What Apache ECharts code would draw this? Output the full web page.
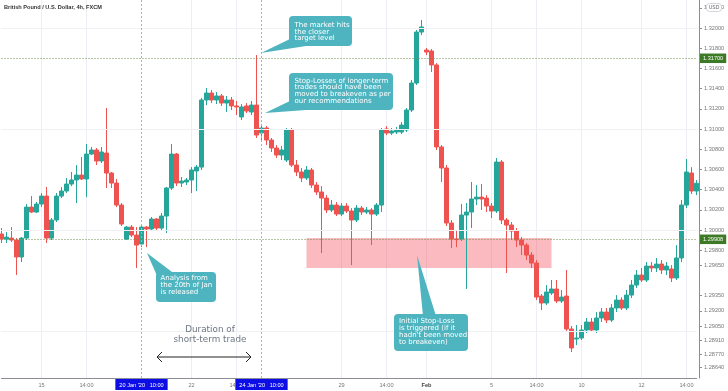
<!DOCTYPE html>
<html><head><meta charset="utf-8">
<script src="https://cdn.jsdelivr.net/npm/echarts@6/dist/echarts.min.js"></script>
<style>html,body{margin:0;padding:0;background:#fff}#c{width:728px;height:391px}</style>
</head><body><div id="c"></div>
<script>
// ---- data ----
const days = ['13 Jan','14 Jan','15 Jan','16 Jan','17 Jan','20 Jan','21 Jan','22 Jan','23 Jan','24 Jan','27 Jan','28 Jan','29 Jan','30 Jan','31 Jan','3 Feb','4 Feb','5 Feb','6 Feb','7 Feb','10 Feb','11 Feb','12 Feb','13 Feb'];
const hours = ['02:00','06:00','10:00','14:00','18:00','22:00'];
const times = days.flatMap(d => hours.map(h => d + ' ' + h)).slice(4);

const opens = [
1.29960,1.29910,1.29920,1.29901,1.29733,1.29920,1.30227,1.30178,1.30257,1.30336,
1.29920,1.30099,1.30336,1.30386,1.30455,1.30495,1.30544,1.30505,1.30752,1.30792,
1.30683,1.30762,1.30564,1.30465,1.30247,1.29910,1.30029,1.29950,1.29861,1.30029,
1.30010,1.30109,1.30019,1.30138,1.30416,1.30752,1.30465,1.30475,1.30495,1.30584,
1.30623,1.31287,1.31356,1.31287,1.31327,1.31257,1.31287,1.31228,1.31119,1.31228,
1.31168,1.31237,1.30960,1.31010,1.30891,1.30812,1.30742,1.30693,1.30990,1.30643,
1.30574,1.30515,1.30594,1.30445,1.30376,1.30316,1.30198,1.30247,1.30158,1.30237,
1.30188,1.30099,1.30217,1.30178,1.30198,1.30158,1.30247,1.31000,1.30960,1.30970,
1.30970,1.30990,1.31188,1.31455,1.31960,1.31782,1.31772,1.31634,1.30822,1.30614,
1.30069,1.29910,1.29910,1.30148,1.30178,1.30307,1.30326,1.30316,1.30237,1.30188,
1.30673,1.30099,1.30049,1.29990,1.29901,1.29851,1.29752,1.29673,1.29346,1.29277,
1.29376,1.29416,1.29297,1.29346,1.29020,1.28921,1.28931,1.29010,1.29089,1.29010,
1.29129,1.29188,1.29109,1.29228,1.29307,1.29228,1.29356,1.29455,1.29554,1.29505,
1.29643,1.29624,1.29663,1.29604,1.29614,1.29525,1.29723,1.30247,1.30564,1.30386];
const closes = [
1.29910,1.29930,1.29901,1.29733,1.29920,1.30227,1.30178,1.30257,1.30336,1.29920,
1.30099,1.30336,1.30386,1.30455,1.30495,1.30544,1.30505,1.30752,1.30792,1.30683,
1.30772,1.30564,1.30465,1.30247,1.30059,1.30029,1.29950,1.29851,1.30029,1.30010,
1.30109,1.30019,1.30138,1.30416,1.30752,1.30465,1.30485,1.30495,1.30594,1.30623,
1.31287,1.31356,1.31287,1.31327,1.31257,1.31287,1.31228,1.31218,1.31218,1.31178,
1.31237,1.30940,1.31010,1.30891,1.30812,1.30742,1.30792,1.30990,1.30643,1.30574,
1.30515,1.30594,1.30445,1.30376,1.30316,1.30198,1.30247,1.30158,1.30237,1.30188,
1.30099,1.30217,1.30178,1.30198,1.30158,1.30247,1.30990,1.30960,1.30980,1.30990,
1.31039,1.31188,1.31455,1.31960,1.32010,1.31762,1.31634,1.30822,1.30614,1.30069,
1.29910,1.29905,1.30148,1.30178,1.30307,1.30326,1.30307,1.30237,1.30188,1.30673,
1.30099,1.30049,1.29990,1.29901,1.29851,1.29752,1.29673,1.29336,1.29277,1.29386,
1.29416,1.29297,1.29336,1.29020,1.28832,1.28931,1.29010,1.29089,1.29010,1.29129,
1.29188,1.29109,1.29228,1.29307,1.29228,1.29356,1.29455,1.29554,1.29505,1.29643,
1.29624,1.29663,1.29604,1.29643,1.29525,1.29723,1.30247,1.30574,1.30386,1.30463];
const lows = [
1.29871,1.29871,1.29881,1.29555,1.29683,1.29901,1.30168,1.30168,1.30227,1.29871,
1.29901,1.30079,1.30316,1.30366,1.30435,1.30267,1.30495,1.30326,1.30742,1.30643,
1.30663,1.30416,1.30416,1.30227,1.30039,1.29901,1.29930,1.29624,1.29831,1.29831,
1.29990,1.30000,1.30000,1.29970,1.30396,1.30435,1.30426,1.30445,1.30366,1.30386,
1.30594,1.31237,1.31257,1.31247,1.31228,1.31168,1.31188,1.31138,1.31089,1.31158,
1.31138,1.30911,1.30891,1.30841,1.30772,1.30713,1.30693,1.30673,1.30624,1.30534,
1.30475,1.30495,1.30416,1.30346,1.29772,1.30168,1.30178,1.30138,1.30138,1.30168,
1.29653,1.30079,1.30148,1.30158,1.29851,1.30138,1.30178,1.30940,1.30940,1.30950,
1.30950,1.30970,1.31168,1.31435,1.31930,1.31732,1.31564,1.30792,1.30475,1.30039,
1.29821,1.29831,1.29891,1.29416,1.30019,1.30247,1.30198,1.30178,1.30119,1.30168,
1.30059,1.29574,1.29901,1.29831,1.29752,1.29703,1.29624,1.29307,1.29208,1.29257,
1.29356,1.29277,1.29277,1.29000,1.28792,1.28861,1.28911,1.28980,1.28990,1.28980,
1.29089,1.29079,1.29089,1.29188,1.29208,1.29208,1.29327,1.29426,1.29485,1.29485,
1.29584,1.29584,1.29564,1.29554,1.29485,1.29505,1.29683,1.30217,1.30356,1.30346];
const highs = [
1.30019,1.29980,1.30029,1.29920,1.29930,1.30257,1.30336,1.30277,1.30366,1.30426,
1.30119,1.30366,1.30426,1.30515,1.30574,1.30643,1.30723,1.30851,1.30822,1.30812,
1.30822,1.31208,1.30574,1.30505,1.30267,1.30039,1.30049,1.30029,1.30049,1.30039,
1.30129,1.30119,1.30168,1.30426,1.30851,1.30762,1.30525,1.30515,1.30623,1.30643,
1.31307,1.31406,1.31386,1.31366,1.31346,1.31327,1.31317,1.31277,1.31247,1.31257,
1.31277,1.31732,1.31039,1.31029,1.30911,1.30841,1.30832,1.31010,1.31010,1.30693,
1.30614,1.30633,1.30614,1.30475,1.30435,1.30346,1.30297,1.30277,1.30267,1.30267,
1.30217,1.30247,1.30237,1.30227,1.30217,1.30267,1.31010,1.31029,1.31010,1.31020,
1.31069,1.31208,1.31485,1.31980,1.32079,1.31802,1.31792,1.31653,1.30841,1.30643,
1.30099,1.30000,1.30257,1.30267,1.30475,1.30445,1.30455,1.30346,1.30267,1.30713,
1.30693,1.30119,1.30079,1.30019,1.29930,1.29871,1.29782,1.29703,1.29366,1.29455,
1.29505,1.29505,1.29406,1.29604,1.29050,1.29059,1.29059,1.29129,1.29129,1.29188,
1.29228,1.29228,1.29267,1.29356,1.29336,1.29406,1.29505,1.29604,1.29624,1.29683,
1.29683,1.29723,1.29703,1.29683,1.29653,1.29851,1.30297,1.30703,1.30623,1.30495];

const xTickIndex = [8, 17, 38, 47, 68, 77, 85, 98, 107, 116, 128, 137];
const xTickText  = ['15','14:00','22','14:00','29','14:00','Feb','5','14:00','10','12','14:00'];
const yTicks = [1.2864,1.2877,1.2891,1.2905,1.2920,1.2935,1.2965,1.2980,1.3000,1.3020,1.3040,1.3060,1.3080,1.3100,1.3120,1.3140,1.3160,1.3180,1.3200,1.3220];
const levelValues = [1.31700, 1.29908];
const priceTags = [1.30463, 1.29536];
const priceTagCountdown = '01:58:29';
const markerTimes = [times[28], times[52]];
const markerTexts = ["20 Jan '20   10:00", "24 Jan '20   10:00"];
const zoneTimes = [times[61], times[110]];
const zoneValues = [1.29921, 1.29624];

// ---- chart ----
const FONT = 'DejaVu Sans';
const AX = 'Liberation Sans';
const UP = '#26a69a', DOWN = '#ef5350', CALLOUT = '#4eb4bf';
const labelMap = {};
xTickIndex.forEach((ix, k) => { labelMap[times[ix]] = xTickText[k]; });
const data = times.map((t, i) => [opens[i], closes[i], lows[i], highs[i]]);

function callout(box, pointer, text, tx, ty, lh) {
  return [
    {type:'polygon', shape:{points:pointer}, style:{fill:CALLOUT}, z:10, silent:true},
    {type:'rect', shape:{x:box[0], y:box[1], width:box[2], height:box[3], r:4}, style:{fill:CALLOUT}, z:10, silent:true},
    {type:'text', x:tx, y:ty, z:11, silent:true,
     style:{text:text, fill:'#fff', fontSize:7, fontFamily:FONT, lineHeight:lh, align:'left', verticalAlign:'top'}}
  ];
}

const graphics = [].concat(
  [{type:'text', x:4, y:4, z:11, style:{text:'British Pound / U.S. Dollar, 4h, FXCM', fill:'#333', fontSize:5.6, fontWeight:'bold', fontFamily:AX, verticalAlign:'top'}}],
  callout([289,16,63,30], [[292,38],[261,53],[306,46]], 'The market hits\nthe closer\ntarget level', 294.5, 21.5, 6.8),
  callout([289,73,104,37], [[292,100],[265,113],[306,110]], 'Stop-Losses of longer-term\ntrades should have been\nmoved to breakeven as per\nour recommendations', 294.5, 77.5, 6.7),
  callout([156,272,60,30], [[158,278],[147,253],[172,272]], 'Analysis from\nthe 20th of Jan\nis released', 160.5, 274.5, 7.2),
  callout([394,314,74,37], [[423,316],[417,255],[436,316]], "Initial Stop-Loss\nis triggered (if it\nhadn't been moved\nto breakeven)", 399, 318, 7),
  [
    {type:'text', x:210, y:325, z:11, style:{text:'Duration of\nshort-term trade', fill:'#6e7582', fontSize:8.8, fontFamily:FONT, lineHeight:10, align:'center', verticalAlign:'top'}},
    {type:'polyline', z:11, shape:{points:[[157,357],[251,357]]}, style:{stroke:'#222', lineWidth:1, fill:null}},
    {type:'polyline', z:11, shape:{points:[[162,352],[157,357],[162,362]]}, style:{stroke:'#222', lineWidth:1, fill:null}},
    {type:'polyline', z:11, shape:{points:[[246,352],[251,357],[246,362]]}, style:{stroke:'#222', lineWidth:1, fill:null}},
    {type:'rect', z:12, shape:{x:706.5, y:3.5, width:15, height:8, r:3}, style:{fill:'#fff', stroke:'#c8cad0', lineWidth:0.8}},
    {type:'text', x:714, y:7.7, z:13, style:{text:'USD', fill:'#666', fontSize:5, fontFamily:AX, align:'center', verticalAlign:'middle'}}
  ]
);

const levelLabel = (bg) => ({position:'end', distance:3.5, color:'#fff', backgroundColor:bg, fontSize:5.6, fontFamily:AX, padding:[2,3,1.5,3], formatter: p => p.value.toFixed(5)});

const option = {
  animation:false,
  backgroundColor:'#fff',
  grid:{left:1.5, right:31.5, top:0, bottom:13},
  xAxis:{
    type:'category', data:times, boundaryGap:false,
    axisLine:{lineStyle:{color:'#8a8d96'}}, axisTick:{show:false},
    axisLabel:{interval:(i) => xTickIndex.includes(i),
      formatter:(v) => labelMap[v] === 'Feb' ? '{b|Feb}' : (labelMap[v] || ''),
      rich:{b:{fontWeight:'bold', fontSize:5.6, fontFamily:AX, color:'#444'}},
      fontSize:5.6, fontFamily:AX, color:'#777', margin:4},
    splitLine:{show:true, interval:(i) => xTickIndex.includes(i), lineStyle:{color:'#eceef3', width:1}}
  },
  yAxis:{
    type:'value', position:'right', offset:2.5, min:1.28535, max:1.32277,
    axisLine:{show:true, lineStyle:{color:'#8a8d96'}},
    axisTick:{show:true, length:3, customValues:yTicks, lineStyle:{color:'#8a8d96'}},
    axisLabel:{customValues:yTicks, formatter:(v) => v.toFixed(5), fontSize:5.6, fontFamily:AX, color:'#777', margin:5},
    splitLine:{show:false}
  },
  series:[{
    type:'line', data:[], z:0, silent:true,
    markLine:{symbol:['none','none'], silent:true, animation:false, label:{show:false},
      lineStyle:{color:'#eef0f4', type:'solid', width:1},
      data: yTicks.map(v => ({yAxis:v}))}
  },{
    type:'candlestick', data:data, barWidth:3.6, clip:false, z:2,
    itemStyle:{color:UP, color0:DOWN, borderColor:UP, borderColor0:DOWN, borderWidth:1},
    markArea:{silent:true, itemStyle:{color:'rgba(242,54,69,0.34)'},
      data:[[{xAxis:zoneTimes[0], yAxis:zoneValues[0]}, {xAxis:zoneTimes[1], yAxis:zoneValues[1]}]]},
    markLine:{symbol:['none','none'], silent:true, animation:false, precision:5,
      data:[
        {yAxis:levelValues[0], lineStyle:{type:[1,2], color:'#6f8f4a', width:1}, label:levelLabel('#3c7a25')},
        {yAxis:levelValues[1], lineStyle:{type:[1,2], color:'#6f8f4a', width:1}, label:levelLabel('#3c7a25')},
        {yAxis:priceTags[0], lineStyle:{opacity:0}, label:levelLabel(DOWN)},
        {yAxis:priceTags[1], lineStyle:{opacity:0}, label:Object.assign(levelLabel(UP), {formatter: p => p.value.toFixed(5) + '\n' + priceTagCountdown, lineHeight:7})},
        {xAxis:markerTimes[0], lineStyle:{type:[2,2], color:'#a9acd8', width:1}, label:{position:'start', distance:1, color:'#fff', backgroundColor:'#0d0de6', fontSize:5.6, fontFamily:AX, padding:[3,4,2,4], formatter:markerTexts[0]}},
        {xAxis:markerTimes[1], lineStyle:{type:[2,2], color:'#a9acd8', width:1}, label:{position:'start', distance:1, color:'#fff', backgroundColor:'#0d0de6', fontSize:5.6, fontFamily:AX, padding:[3,4,2,4], formatter:markerTexts[1]}}
      ]}
  }],
  graphic:graphics
};
const chart = echarts.init(document.getElementById('c'));
chart.setOption(option);
</script></body></html>
